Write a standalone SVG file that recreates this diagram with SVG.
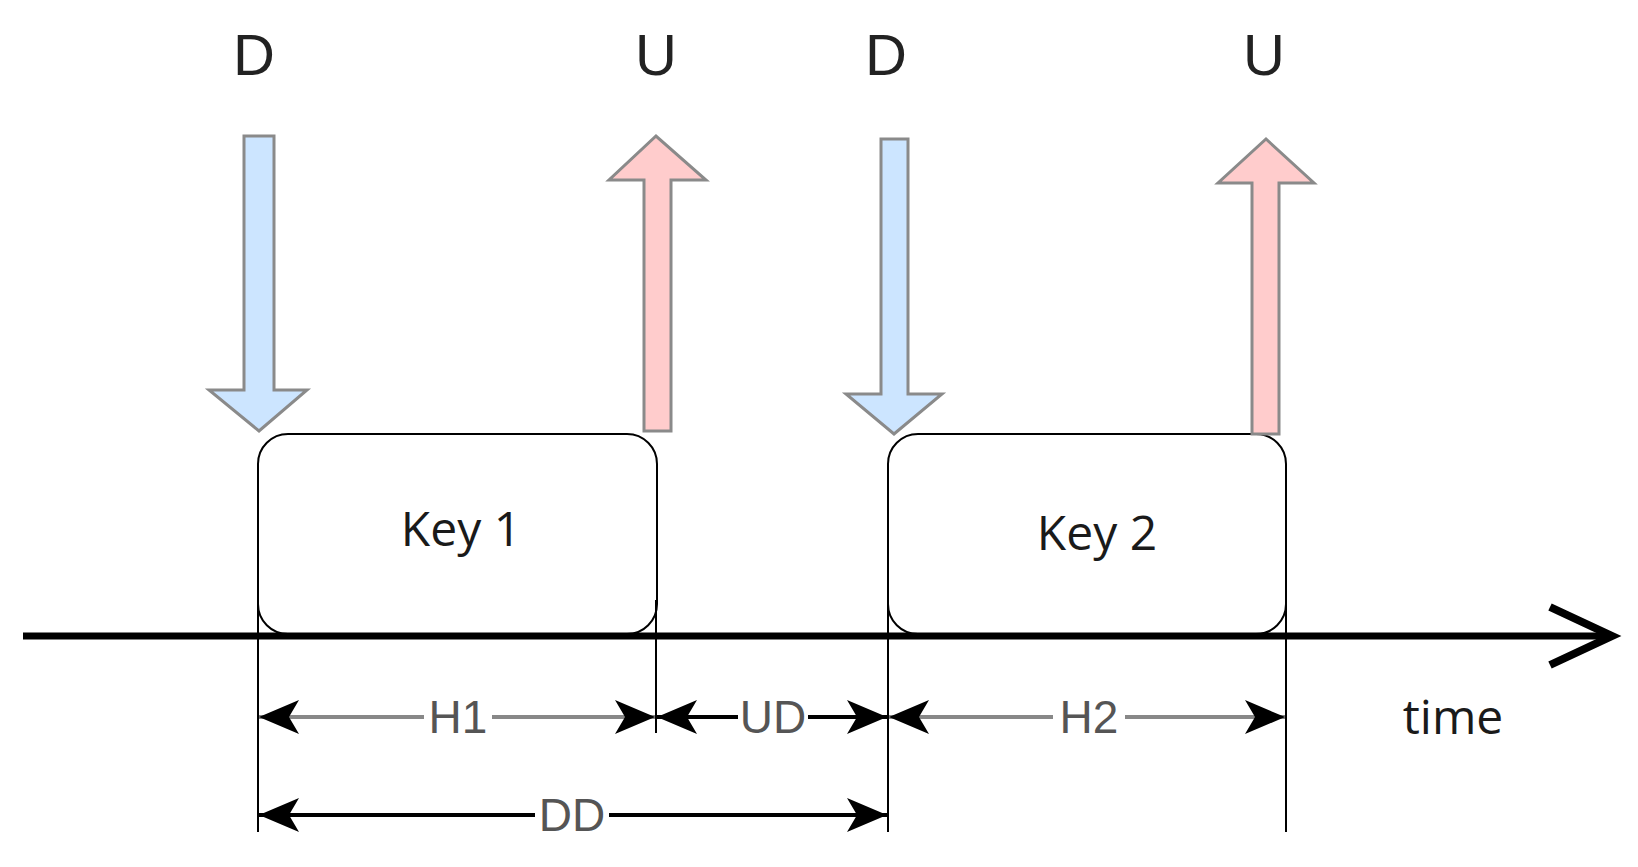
<svg xmlns="http://www.w3.org/2000/svg" width="1638" height="867" viewBox="0 0 1638 867">
<defs>
<marker id="ah" viewBox="0 0 20 16" refX="20" refY="8" markerWidth="20" markerHeight="16" markerUnits="userSpaceOnUse" orient="auto-start-reverse">
<path d="M0,0 L20,8 L0,16 L5,8 Z" fill="#000" transform="scale(1)"/>
</marker>
<marker id="ahb" viewBox="0 0 40 34" refX="40" refY="17" markerWidth="40" markerHeight="34" markerUnits="userSpaceOnUse" orient="auto-start-reverse">
<path d="M0,0 L40,17 L0,34 L10,17 Z" fill="#000"/>
</marker>
</defs>
<style>
.lbl{font-family:"Liberation Sans",Arial,sans-serif;font-size:58px;fill:#222;text-anchor:middle}
.key{font-family:"Open Sans","Liberation Sans",sans-serif;font-size:48px;fill:#1a1a1a;text-anchor:middle}
.dim{font-family:"Liberation Sans",Arial,sans-serif;font-size:46px;fill:#555;text-anchor:middle}
.down{fill:#cce5ff;stroke:#8a8a8a;stroke-width:3}
.up{fill:#ffcccc;stroke:#8a8a8a;stroke-width:3}
.box{fill:#fff;stroke:#000;stroke-width:2}
.vl{stroke:#000;stroke-width:2}
.dl{stroke-width:4;fill:none;marker-start:url(#ahb);marker-end:url(#ahb)}
</style>
<rect width="1638" height="867" fill="#fff"/>
<g id="labels">
<text class="lbl" x="254" y="75">D</text>
<text class="lbl" x="656" y="75">U</text>
<text class="lbl" x="886" y="75">D</text>
<text class="lbl" x="1264" y="75">U</text>
</g>
<g id="key1"><rect class="box" x="258" y="434" width="399" height="200" rx="30"/><text class="key" x="461" y="546">Key 1</text></g>
<g id="key2"><rect class="box" x="888" y="434" width="398" height="200" rx="30"/><text class="key" x="1097" y="550">Key 2</text></g>
<g id="arrows">
<polygon id="d1" class="down" points="244,136 274,136 274,390 307,390 259,431 209,390 244,390"/>
<polygon id="u1" class="up" points="644,431 671,431 671,180 706,180 656,136 609,180 644,180"/>
<polygon id="d2" class="down" points="881,139 908,139 908,394 942,394 894,434 846,394 881,394"/>
<polygon id="u2" class="up" points="1252,434 1279,434 1279,183 1314,183 1266,139 1218,183 1252,183"/>
</g>
<g id="connectors">
<line x1="23" y1="636" x2="1608" y2="636" stroke="#000" stroke-width="7"/>
<polyline points="1550,607 1612,636 1550,665" fill="none" stroke="#000" stroke-width="8"/>
<line class="vl" x1="258" y1="600" x2="258" y2="832"/>
<line class="vl" x1="656" y1="600" x2="656" y2="733"/>
<line class="vl" x1="888" y1="600" x2="888" y2="832"/>
<line class="vl" x1="1286" y1="600" x2="1286" y2="832"/>
<line class="dl" x1="259" y1="717" x2="655" y2="717" stroke="#888"/>
<line class="dl" x1="657" y1="717" x2="887" y2="717" stroke="#000"/>
<line class="dl" x1="889" y1="717" x2="1285" y2="717" stroke="#888"/>
<line class="dl" x1="259" y1="815" x2="887" y2="815" stroke="#000"/>
</g>
<g id="dimlabels">
<rect x="424" y="695" width="68" height="44" fill="#fff"/><text class="dim" x="458" y="733">H1</text>
<rect x="738" y="695" width="70" height="44" fill="#fff"/><text class="dim" x="773" y="733">UD</text>
<rect x="1053" y="695" width="72" height="44" fill="#fff"/><text class="dim" x="1089" y="733">H2</text>
<rect x="535" y="793" width="74" height="44" fill="#fff"/><text class="dim" x="572" y="831">DD</text>
<text class="key" x="1453" y="734">time</text>
</g>
</svg>
